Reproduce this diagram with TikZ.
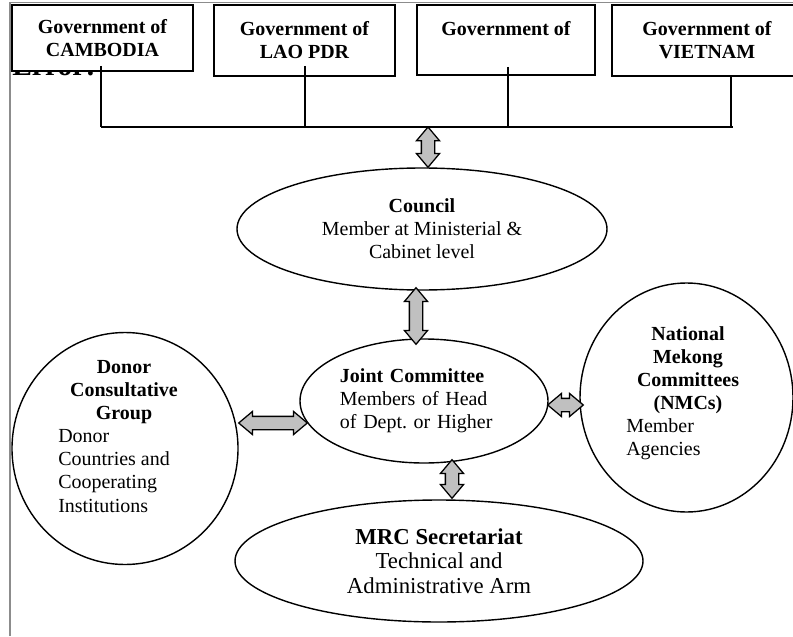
\documentclass[tikz,border=0pt]{standalone}
\usepackage{fontspec}
\setmainfont{Liberation Serif}
\usetikzlibrary{shapes.geometric, shapes.arrows, calc}

\definecolor{silver}{HTML}{C0C0C0}
\definecolor{framegray}{HTML}{8C8C8C}
\newcommand{\pxu}{0.025cm}
\newcommand{\bodyfont}{\fontsize{14.2pt}{16.4pt}\selectfont}
\newcommand{\bigfont}{\fontsize{16.2pt}{17.4pt}\selectfont}
% gray double block arrow between two points
\newcommand{\blockarrow}[3]{%
  \path let \p1=(#2), \p2=(#3), \n1={veclen(\x2-\x1,\y2-\y1)}, \n2={atan2(\y2-\y1,\x2-\x1)} in
    node[blockar, minimum height=\n1, rotate=\n2] (#1) at ({(\x1+\x2)/2},{(\y1+\y2)/2}) {};}

\begin{document}
\begin{tikzpicture}[x=0.025cm, y=-0.025cm,
    gov/.style={draw, fill=white, line width=1.1pt, align=center, font=\bodyfont\bfseries, inner sep=0pt},
    bubble/.style={draw, ellipse, line width=1pt, inner sep=0pt},
    wire/.style={line width=1pt},
    blockar/.style={double arrow, draw, fill=silver, line width=0.9pt, inner xsep=0pt, inner ysep=0.15cm,
        double arrow head extend=0.125cm, double arrow tip angle=80}]
        \useasboundingbox (0,0) rectangle (793,636);
        \draw[framegray, line width=1.4pt] (10,636) -- (10,2.5) -- (793,2.5);

        % heading hidden behind the first box
        \node[font=\fontsize{21pt}{25pt}\selectfont\bfseries, anchor=base west, inner sep=0pt] (err) at (12,76) {Error!};

        \node[gov, minimum width=181*\pxu, minimum height=66*\pxu] (cambodia) at (102.5,38) {Government of\\CAMBODIA};
        \node[gov, minimum width=181*\pxu, minimum height=71*\pxu] (lao) at (304.5,40.5) {Government of\\LAO PDR};
        \node[gov, minimum width=178*\pxu, minimum height=70*\pxu] (blank) at (506,40) {Government of\\\mbox{}};
        \node[gov, minimum width=190*\pxu, minimum height=71*\pxu] (vietnam) at (707,40.5) {Government of\\VIETNAM};

        \coordinate (j1) at (101,127);
        \coordinate (j2) at (305,127);
        \coordinate (j3) at (508,127);
        \coordinate (j4) at (731,127);
        \coordinate (jc) at (428,127);

        \draw[wire] ($(j1 |- cambodia.south)+(0,-6)$) -- (j1);
        \draw[wire] ($(j2 |- lao.south)+(0,-11)$) -- (j2);
        \draw[wire] ($(j3 |- blank.south)+(0,-9)$) -- (j3);
        \draw[wire] (vietnam.south -| j4) -- (j4);
        \draw[wire] (j1) -- ($(j4)+(2,0)$);

        \node[bubble, minimum width=370*\pxu, minimum height=122*\pxu, align=center, font=\bodyfont] (council) at (422,229) {\textbf{Council}\\Member at Ministerial \&\\Cabinet level};
        \node[bubble, minimum width=248*\pxu, minimum height=124*\pxu, text width=4.2cm, align=left, font=\bodyfont] (joint) at (424,401) {\textbf{Joint Committee}\\Members of Head\\of Dept.\ or Higher};
        \node[bubble, minimum width=408*\pxu, minimum height=122*\pxu, align=center, font=\bigfont] (mrc) at (439,561) {\textbf{MRC Secretariat}\\Technical and\\Administrative Arm};

        \node[bubble, minimum width=226*\pxu, minimum height=232*\pxu] (donor) at (125,448.5) {};
        \node[align=center, font=\bodyfont\bfseries, inner sep=0pt] (donortitle) at (124,392) {Donor\\Consultative\\Group};
        \node[align=left, font=\bodyfont, anchor=west, inner sep=0pt] (donortext) at (58,471) {Donor\\Countries and\\Cooperating\\Institutions};

        \node[bubble, minimum width=213*\pxu, minimum height=229*\pxu] (nmc) at (686.5,397.5) {};
        \node[align=center, font=\bodyfont\bfseries, inner sep=0pt] (nmctitle) at (688,370.5) {National\\Mekong\\Committees\\(NMCs)};
        \node[align=left, font=\bodyfont, anchor=west, inner sep=0pt] (nmctext) at (626,439.5) {Member\\Agencies};

        \blockarrow{a1}{jc}{jc |- council.north}
        \blockarrow{a2}{$(council.south)+(-6,-3)$}{$(joint.north)+(-8,6)$}
        \blockarrow{a3}{$(joint.south)+(28,-4)$}{$(mrc.north)+(13,-1)$}
        \blockarrow{a4}{$(donor.east)+(0,-25.5)$}{$(joint.west)+(8,22)$}
        \blockarrow{a5}{$(joint.east)+(-1,4)$}{$(nmc.west)+(4,7.5)$}
\end{tikzpicture}
\end{document}
